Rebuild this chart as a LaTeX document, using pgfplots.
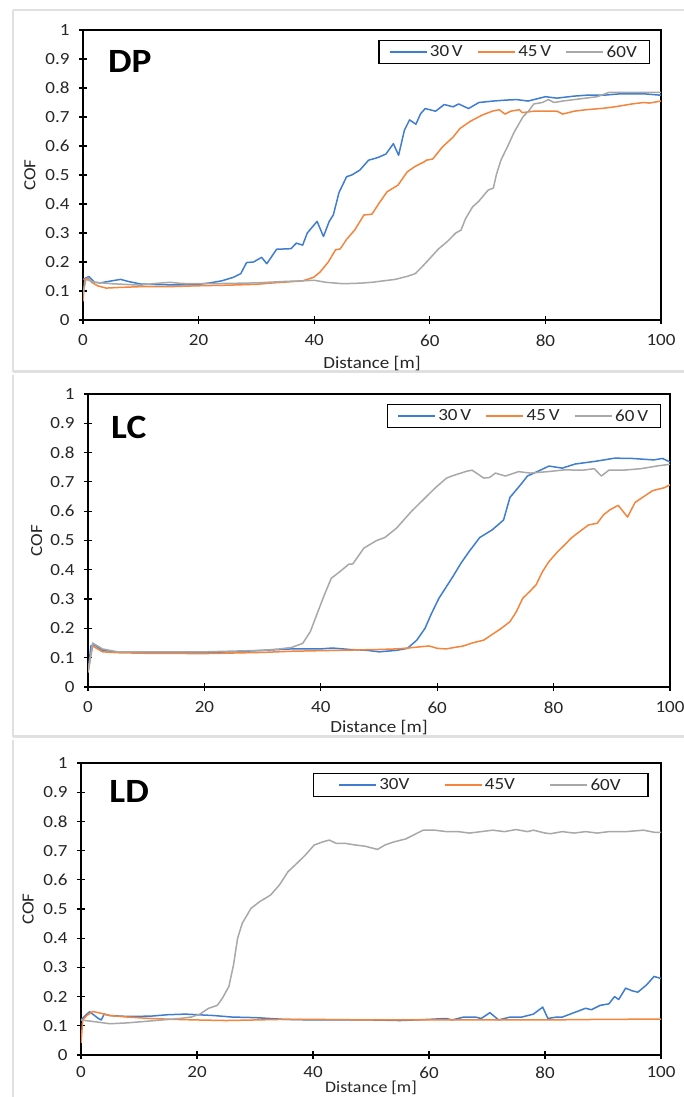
\documentclass[border=0pt]{standalone}
\usepackage{fontspec}
\setmainfont{Carlito}[FakeStretch=1.12]
\newfontfamily\titlefont{Carlito}[FakeStretch=1.1]
\usepackage{pgfplots}
\pgfplotsset{compat=1.18}
\definecolor{cblue}{HTML}{3F7DD0}
\definecolor{corange}{HTML}{F5843C}
\definecolor{cgray}{HTML}{A8A8A8}
\newcommand{\lblfont}{\fontsize{17}{20}\selectfont}
\pgfplotsset{
  cofaxis/.style={
    scale only axis,
    anchor=south west,
    xmin=0, xmax=100, ymin=0, ymax=1,
    xtick={0,20,40,60,80,100},
    ytick={0,0.1,0.2,0.3,0.4,0.5,0.6,0.7,0.8,0.9,1},
    tick pos=left,
    tick align=center,
    major tick length=8pt,
    axis line style={black, line width=1.4pt},
    every tick/.style={black, line width=1.2pt},
    tick label style={font=\lblfont, text=black!85},
    /pgf/number format/assume math mode=true,
    yticklabel style={/pgf/number format/fixed, xshift=-6pt},
    xticklabel style={yshift=-7pt},
    label style={font=\lblfont, text=black!85},
    xlabel={Distance [m]},
    ylabel={COF},
    legend columns=3,
    legend cell align=left,
    legend image code/.code={\draw[#1] (0pt,0pt) -- (37pt,0pt);},
    legend style={draw=black, line width=1.4pt, fill=white, font=\lblfont, text=black!85,
      anchor=north east, inner xsep=10pt, inner ysep=3pt,
      nodes={inner xsep=2.5pt},
      /tikz/every even column/.append style={column sep=12pt}},
    every axis plot/.append style={line width=1.5pt, line join=round},
  }
}
\begin{document}
\begin{tikzpicture}
\useasboundingbox (0pt,0pt) rectangle (684pt,1097pt);
\draw[black!12, line width=2.5pt] (13pt,1087pt) -- (690pt,1087pt);
\draw[black!12, line width=2.5pt] (13pt,1087pt) -- (13pt,725pt);
\draw[black!12, line width=3pt] (13pt,725pt) -- (690pt,725pt);
\draw[black!12, line width=2.5pt] (13pt,722pt) -- (13pt,360pt);
\draw[black!12, line width=3pt] (13pt,360pt) -- (690pt,360pt);
\draw[black!12, line width=2.5pt] (13pt,357pt) -- (13pt,-5pt);

% ---------------- DP ----------------
\begin{axis}[cofaxis, at={(83pt,777pt)}, width=578pt, height=290pt,
  xlabel style={at={(axis description cs:0.5,-0.151)}, anchor=center},
  ylabel style={at={(axis description cs:-0.092,0.5)}, anchor=center},
  legend style={at={(axis description cs:0.981,0.966)}}]
\addlegendimage{cblue, line width=1.5pt}
\addlegendentry{30\,V}
\addlegendimage{corange, line width=1.5pt}
\addlegendentry{45\,V}
\addlegendimage{cgray, line width=1.5pt}
\addlegendentry{60V}
\addplot[cblue, forget plot] coordinates {(0,0.14)(0.5,0.145)(1,0.15)(1.5,0.14)(2,0.13)(3,0.128)(5,0.135)(6.5,0.14)(8,0.132)(10,0.124)(13,0.122)(16,0.121)(20,0.123)(22,0.128)(24,0.135)(26,0.147)(27.3,0.16)(28.3,0.198)(29.5,0.2)(30.9,0.216)(31.8,0.194)(33.5,0.244)(35,0.245)(36,0.246)(36.9,0.265)(38,0.258)(38.8,0.3)(40.5,0.34)(41.6,0.288)(42.6,0.34)(43.3,0.362)(44.3,0.44)(45.6,0.494)(46.5,0.5)(47.9,0.517)(49.4,0.551)(51,0.56)(52.4,0.572)(53.7,0.608)(54.6,0.568)(55.6,0.654)(56.5,0.69)(57.6,0.675)(58.4,0.711)(59.2,0.729)(61,0.72)(62.5,0.743)(64,0.735)(65,0.745)(66.7,0.729)(68.5,0.75)(71,0.755)(73,0.758)(75,0.76)(77,0.755)(80,0.77)(82,0.765)(85,0.772)(87,0.775)(90,0.775)(93,0.78)(97,0.78)(100,0.775)};
\addplot[corange, forget plot] coordinates {(0,0.064)(0.3,0.14)(0.8,0.145)(1.5,0.13)(2.5,0.118)(4,0.11)(6,0.112)(10,0.115)(15,0.115)(20,0.118)(25,0.12)(30,0.123)(33,0.128)(36,0.132)(38,0.135)(39.9,0.147)(41,0.165)(42.4,0.199)(43.7,0.242)(44.5,0.245)(45.6,0.278)(47,0.31)(48.6,0.362)(50,0.365)(51.2,0.402)(52.6,0.442)(54.5,0.465)(56.1,0.511)(57.5,0.53)(59,0.545)(59.4,0.551)(60.5,0.555)(62.2,0.597)(64,0.63)(65.2,0.66)(67,0.685)(69,0.706)(70.8,0.72)(72,0.725)(73,0.71)(74,0.72)(75.5,0.725)(76,0.715)(78,0.72)(82,0.72)(83,0.71)(85,0.72)(87,0.725)(90,0.73)(92,0.735)(95,0.745)(97,0.75)(98,0.748)(100,0.755)};
\addplot[cgray, forget plot] coordinates {(0,0.09)(0.5,0.14)(2,0.13)(5,0.125)(10,0.12)(12,0.125)(15,0.13)(17,0.126)(20,0.125)(25,0.126)(30,0.128)(35,0.133)(38,0.135)(40,0.137)(42,0.13)(45,0.125)(48,0.127)(50,0.13)(52,0.135)(54,0.14)(56,0.15)(57.5,0.16)(58.5,0.18)(59.9,0.21)(61.5,0.245)(63,0.27)(64.5,0.3)(65.4,0.31)(66.2,0.35)(67.4,0.39)(68.5,0.41)(70.1,0.448)(71,0.455)(71.5,0.5)(72.3,0.551)(73.5,0.6)(74.6,0.648)(76.1,0.7)(77.2,0.723)(78,0.745)(79.5,0.75)(80.5,0.76)(81.5,0.75)(83,0.755)(85,0.76)(87,0.765)(89,0.77)(91,0.785)(95,0.785)(98,0.785)(100,0.785)};
\node[font=\titlefont\fontsize{34}{36}\selectfont\bfseries] at (axis description cs:0.081,0.89) {DP};
\end{axis}

% ---------------- LC ----------------
\begin{axis}[cofaxis, at={(88pt,410pt)}, width=582pt, height=293pt,
  xlabel style={at={(axis description cs:0.5,-0.14)}, anchor=center},
  ylabel style={at={(axis description cs:-0.088,0.5)}, anchor=center},
  legend style={at={(axis description cs:0.985,0.966)}}]
\addlegendimage{cblue, line width=1.5pt}
\addlegendentry{30\,V}
\addlegendimage{corange, line width=1.5pt}
\addlegendentry{45\,V}
\addlegendimage{cgray, line width=1.5pt}
\addlegendentry{60\,V}
\addplot[cblue, forget plot] coordinates {(0,0.05)(0.5,0.14)(1,0.145)(2.5,0.125)(5,0.12)(10,0.118)(15,0.117)(20,0.118)(25,0.12)(30,0.125)(35,0.13)(40,0.13)(42,0.133)(45,0.128)(48,0.125)(50,0.12)(53,0.125)(54.9,0.132)(56.5,0.16)(57.9,0.2)(59,0.25)(60.3,0.303)(61.5,0.34)(62.7,0.377)(64,0.42)(65.4,0.46)(67.3,0.51)(69.5,0.537)(71.4,0.57)(72.5,0.647)(74.4,0.692)(75.5,0.72)(77.4,0.737)(79.2,0.754)(81.5,0.747)(83.7,0.761)(87.1,0.77)(90.5,0.781)(93.5,0.78)(97.2,0.775)(98.7,0.78)(100,0.768)};
\addplot[corange, forget plot] coordinates {(0,0.05)(0.8,0.14)(2.5,0.12)(5,0.117)(10,0.115)(20,0.114)(30,0.118)(35,0.122)(40,0.124)(45,0.126)(50,0.128)(53,0.13)(55,0.133)(57,0.137)(58.6,0.14)(60,0.132)(61.5,0.13)(63,0.135)(64.5,0.14)(66,0.15)(68,0.16)(69.5,0.18)(71,0.2)(72.5,0.223)(73.6,0.257)(74.7,0.303)(75.9,0.326)(77,0.349)(78.1,0.394)(79.2,0.428)(80.7,0.462)(81.9,0.485)(83,0.508)(84.5,0.531)(86,0.553)(87.5,0.559)(88.6,0.588)(89.7,0.605)(91.1,0.62)(92.7,0.58)(94,0.63)(95.5,0.65)(97,0.67)(99,0.68)(100,0.69)};
\addplot[cgray, forget plot] coordinates {(0,0.05)(0.8,0.15)(2.5,0.13)(5,0.12)(10,0.12)(20,0.12)(30,0.125)(33,0.13)(35,0.135)(36.9,0.149)(38.2,0.189)(39.5,0.257)(40.6,0.314)(41.8,0.371)(43.3,0.394)(44.8,0.419)(45.5,0.42)(47.4,0.474)(49.6,0.5)(51,0.51)(53,0.542)(55.6,0.6)(57.9,0.645)(59.7,0.68)(61.6,0.713)(62.5,0.72)(65,0.736)(66,0.74)(68,0.713)(69,0.715)(70,0.73)(71.7,0.72)(74,0.735)(76,0.73)(79,0.735)(81.9,0.741)(85,0.74)(87,0.745)(88.2,0.72)(89.5,0.74)(92,0.74)(95,0.745)(98,0.755)(100,0.76)};
\node[font=\titlefont\fontsize{34}{36}\selectfont\bfseries] at (axis description cs:0.070,0.887) {LC};
\end{axis}

% ---------------- LD ----------------
\begin{axis}[cofaxis, at={(81pt,42pt)}, width=580pt, height=292pt,
  xticklabel style={yshift=3pt},
  xlabel style={at={(axis description cs:0.5,-0.112)}, anchor=center, font=\fontsize{16}{18}\selectfont},
  ylabel style={at={(axis description cs:-0.091,0.5)}, anchor=center},
  legend style={at={(axis description cs:0.979,0.966)},
    /tikz/every even column/.append style={column sep=32pt}, inner xsep=25pt}]
\addlegendimage{cblue, line width=1.5pt}
\addlegendentry{30V}
\addlegendimage{corange, line width=1.5pt}
\addlegendentry{45V}
\addlegendimage{cgray, line width=1.5pt}
\addlegendentry{60V}
\addplot[cblue, forget plot] coordinates {(0,0.12)(1,0.14)(1.5,0.148)(3,0.125)(3.5,0.12)(4,0.14)(5,0.135)(8,0.132)(12,0.133)(15,0.138)(18,0.14)(20,0.138)(23,0.135)(26,0.13)(30,0.128)(35,0.122)(40,0.12)(45,0.12)(50,0.12)(55,0.118)(60,0.122)(63,0.125)(64,0.12)(66,0.13)(68,0.13)(69,0.125)(70.5,0.145)(72,0.12)(74,0.13)(76,0.13)(78,0.14)(79.6,0.164)(80.5,0.125)(82,0.13)(83,0.13)(85,0.145)(87,0.16)(88,0.155)(89.5,0.17)(91,0.175)(92,0.2)(92.7,0.19)(93.9,0.229)(95,0.22)(96,0.215)(97.5,0.24)(98.8,0.269)(100,0.262)};
\addplot[corange, forget plot] coordinates {(0,0.041)(0.3,0.12)(1,0.135)(2,0.149)(3,0.145)(5,0.135)(8,0.13)(12,0.125)(16,0.122)(20,0.12)(25,0.118)(30,0.12)(35,0.122)(40,0.122)(50,0.12)(60,0.12)(70,0.12)(80,0.12)(90,0.122)(100,0.123)};
\addplot[cgray, forget plot] coordinates {(0,0.12)(2,0.115)(5,0.107)(8,0.11)(11,0.115)(14,0.12)(17,0.125)(19,0.13)(20.5,0.14)(22,0.16)(23.5,0.17)(24.4,0.195)(25.5,0.235)(26.3,0.309)(27,0.4)(27.8,0.451)(29.3,0.502)(30.8,0.525)(32.7,0.548)(34.2,0.582)(35.7,0.628)(37.2,0.656)(38.7,0.685)(40.2,0.719)(41.7,0.73)(42.8,0.736)(44,0.725)(45.5,0.725)(47,0.72)(49,0.715)(51.1,0.704)(52.5,0.72)(54,0.73)(56,0.74)(57.5,0.755)(59,0.77)(61,0.77)(63,0.765)(65,0.765)(67,0.76)(69,0.765)(71,0.77)(73,0.765)(75,0.772)(77,0.765)(78,0.77)(80,0.76)(81,0.758)(83,0.765)(85,0.76)(87,0.765)(89,0.76)(91,0.765)(94,0.765)(97,0.77)(99,0.762)(100,0.762)};
\node[font=\titlefont\fontsize{34}{36}\selectfont\bfseries] at (axis description cs:0.083,0.904) {LD};
\end{axis}
\end{tikzpicture}
\end{document}
